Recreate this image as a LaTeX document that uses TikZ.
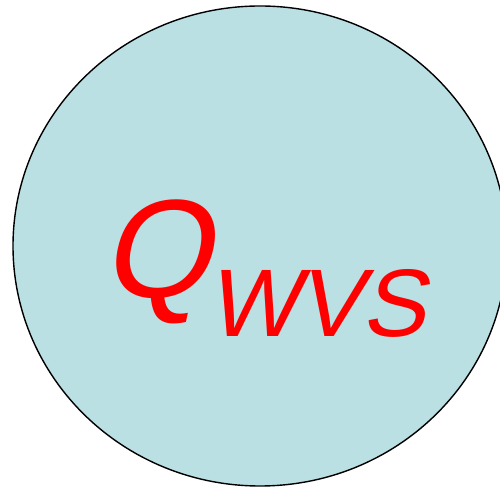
\documentclass[tikz,border=0pt]{standalone}
\usepackage{fontspec}
\setmainfont{Liberation Sans}
\usetikzlibrary{shapes.geometric}
\definecolor{circfill}{RGB}{186,224,227}
\definecolor{qred}{RGB}{255,0,0}
\newcommand{\bigq}{\fontsize{140}{140}\selectfont}
\newcommand{\subq}{\fontsize{96}{96}\selectfont}
\begin{document}
\begin{tikzpicture}[x=1pt,y=1pt,
  lbl/.style={text=qred,inner sep=0pt,anchor=base west,transform shape}]
\useasboundingbox (0,0) rectangle (500,489);
\fill[white] (0,0) rectangle (500,489);
\node[draw=black,line width=1.4pt,fill=circfill,ellipse,minimum width=494pt,minimum height=480pt,inner sep=0pt] (c) at (260,243) {};
\begin{scope}[shift={(101,191)},xslant=0.21]
  \node[lbl] (q) at (0,0) {\bigq Q\hspace{5.2pt}\raisebox{-39pt}{\subq WVS}};
\end{scope}
\end{tikzpicture}
\end{document}
